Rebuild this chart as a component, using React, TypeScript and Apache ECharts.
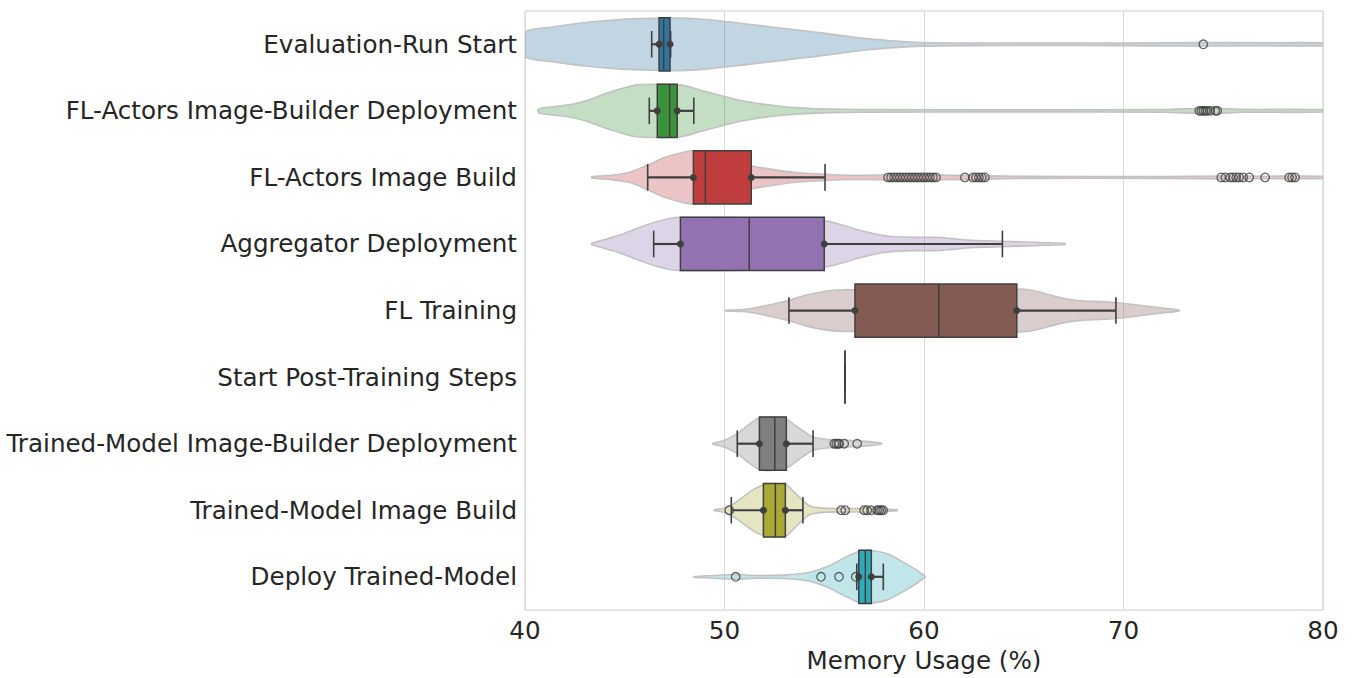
import React, { useEffect, useRef } from 'react';
import * as echarts from 'echarts';

const categories = [
  'Evaluation-Run Start',
  'FL-Actors Image-Builder Deployment',
  'FL-Actors Image Build',
  'Aggregator Deployment',
  'FL Training',
  'Start Post-Training Steps',
  'Trained-Model Image-Builder Deployment',
  'Trained-Model Image Build',
  'Deploy Trained-Model',
];

// [low whisker, q1, median, q3, high whisker]
const boxStats = [
  [46.35, 46.72, 46.95, 47.27, 47.3],
  [46.23, 46.63, 47.25, 47.63, 48.46],
  [46.15, 48.44, 49.04, 51.34, 55.04],
  [46.45, 47.79, 51.24, 55.0, 63.93],
  [53.23, 56.54, 60.74, 64.65, 69.62],
  [56.04, 56.04, 56.04, 56.04, 56.04],
  [50.64, 51.75, 52.52, 53.1, 54.44],
  [50.34, 51.95, 52.55, 53.05, 53.93],
  [56.63, 56.73, 57.06, 57.36, 57.96],
];

// violin profiles: [value, half width in band units]
const violinEval = [[40, 0.185], [41.4, 0.26], [43.1, 0.33], [44.8, 0.373], [46.4, 0.39], [47.8, 0.395], [49.1, 0.373], [50.4, 0.33], [51.8, 0.28], [53.1, 0.234], [54.5, 0.185], [55.8, 0.134], [57.1, 0.085], [58.5, 0.05], [59.8, 0.027], [62, 0.02], [66, 0.018], [70, 0.02], [74, 0.026], [77, 0.022], [80, 0.02]];
const violinActorsBuilder = [[40.65, 0.01], [40.72, 0.035], [41.5, 0.065], [42.3, 0.095], [43.1, 0.155], [43.9, 0.245], [44.8, 0.33], [45.6, 0.39], [46.4, 0.4], [47.8, 0.39], [48.8, 0.31], [49.8, 0.23], [50.8, 0.155], [51.8, 0.105], [52.8, 0.07], [53.8, 0.045], [54.8, 0.03], [57, 0.02], [65, 0.016], [72, 0.02], [74.2, 0.04], [76, 0.022], [80, 0.018]];
const violinActorsBuild = [[43.34, 0.008], [44.43, 0.037], [45.26, 0.077], [46.15, 0.186], [46.93, 0.29], [47.77, 0.366], [48.44, 0.4], [49.5, 0.33], [50.5, 0.23], [51.44, 0.167], [52.44, 0.117], [53.45, 0.077], [55.04, 0.047], [56.44, 0.032], [58.13, 0.037], [59.8, 0.04], [60.8, 0.035], [62, 0.03], [63, 0.025], [65, 0.015], [72, 0.014], [75, 0.022], [77, 0.018], [78.5, 0.02], [80, 0.015]];
const violinAggregator = [[43.34, 0.008], [43.92, 0.06], [44.76, 0.134], [45.6, 0.234], [46.43, 0.318], [47.27, 0.383], [47.79, 0.4], [49.5, 0.4], [51.5, 0.39], [53.5, 0.37], [55.12, 0.343], [55.79, 0.293], [56.46, 0.234], [57.29, 0.169], [58.13, 0.12], [59.46, 0.1], [60.64, 0.1], [61.3, 0.085], [62.14, 0.06], [63.93, 0.04], [65.48, 0.025], [67.07, 0.008]];
const violinTraining = [[50.06, 0.005], [50.94, 0.015], [52.11, 0.075], [53.23, 0.154], [54.12, 0.234], [55.12, 0.294], [55.96, 0.313], [56.54, 0.313], [58.5, 0.33], [60.5, 0.34], [62.5, 0.33], [64.81, 0.323], [65.48, 0.3], [66.32, 0.234], [67.15, 0.174], [67.99, 0.144], [68.82, 0.134], [69.6, 0.12], [70.5, 0.09], [71.3, 0.06], [72.2, 0.03], [72.8, 0.005]];
const violinPostTraining: number[][] = [];
const violinModelBuilder = [[49.41, 0.005], [49.77, 0.03], [50.11, 0.065], [50.64, 0.15], [51.28, 0.3], [51.75, 0.39], [52.5, 0.4], [53.2, 0.35], [53.62, 0.26], [53.95, 0.19], [54.44, 0.1], [55.12, 0.065], [56.12, 0.05], [57.13, 0.035], [57.88, 0.005]];
const violinModelBuild = [[49.47, 0.005], [49.94, 0.025], [50.36, 0.08], [50.94, 0.2], [51.44, 0.31], [51.95, 0.38], [52.5, 0.4], [53.12, 0.38], [53.53, 0.26], [53.95, 0.14], [54.29, 0.065], [54.79, 0.035], [55.79, 0.025], [57.46, 0.025], [58.66, 0.005]];
const violinDeploy = [[48.47, 0.005], [49.1, 0.015], [50.56, 0.035], [51.61, 0.02], [52.95, 0.025], [53.78, 0.045], [54.45, 0.08], [55.12, 0.15], [55.79, 0.25], [56.46, 0.35], [56.96, 0.4], [58.13, 0.35], [58.96, 0.22], [59.63, 0.1], [60.05, 0.005]];

const violinProfiles = [violinEval, violinActorsBuilder, violinActorsBuild, violinAggregator, violinTraining, violinPostTraining, violinModelBuilder, violinModelBuild, violinDeploy];

// outliers per category
const outEval = [74.0];
const outActorsBuilder = [73.8, 73.9, 74.0, 74.1, 74.2, 74.35, 74.6, 74.7];
const outActorsBuild = [58.2, 58.35, 58.5, 58.65, 58.8, 58.95, 59.1, 59.25, 59.4, 59.55, 59.7, 59.85, 60.0, 60.15, 60.3, 60.45, 60.6, 62.05, 62.45, 62.6, 62.75, 62.9, 63.05, 74.9, 75.1, 75.35, 75.5, 75.65, 75.8, 76.0, 76.3, 77.1, 78.3, 78.45, 78.6];
const outAggregator: number[] = [];
const outTraining: number[] = [];
const outPostTraining: number[] = [];
const outModelBuilder = [55.5, 55.6, 55.7, 55.75, 56.0, 56.65];
const outModelBuild = [50.24, 55.85, 56.05, 57.0, 57.15, 57.35, 57.65, 57.75, 57.85, 57.95];
const outDeploy = [50.56, 54.84, 55.74, 56.58];
const outliers = [outEval, outActorsBuilder, outActorsBuild, outAggregator, outTraining, outPostTraining, outModelBuilder, outModelBuild, outDeploy];

const xTicks = { min: 40, max: 80, interval: 10 };

const boxColors = ['#3274a1', '#3a923a', '#c03d3e', '#9372b2', '#845b53', '#7f7f7f', '#7f7f7f', '#a9aa35', '#2eabb8'];
const violinColors = [
  'rgba(50,116,161,0.3)', 'rgba(58,146,58,0.3)', 'rgba(192,61,62,0.3)', 'rgba(147,114,178,0.3)',
  'rgba(132,91,83,0.3)', 'rgba(127,127,127,0.3)', 'rgba(127,127,127,0.3)', 'rgba(169,170,53,0.3)', 'rgba(46,171,184,0.3)',
];

const DARK = '#3f3f3f';
const FONT = 'DejaVu Sans';
const FS = 24.6;

export default function App() {
  const ref = useRef<HTMLDivElement>(null);
  useEffect(() => {
    document.body.style.margin = '0';
    if (!ref.current) return;
    const chart = echarts.init(ref.current, undefined, { renderer: 'svg' });

    const catData = categories.map((_, i) => [boxStats[i][2], i]);
    const outlierData: number[][] = [];
    outliers.forEach((arr, i) => arr.forEach((v) => outlierData.push([v, i])));

    const option: any = {
      animation: false,
      grid: { left: 525, right: 33, top: 11, bottom: 64, show: true, borderColor: '#cccccc', borderWidth: 1, backgroundColor: 'transparent' },
      xAxis: {
        type: 'value', min: xTicks.min, max: xTicks.max, interval: xTicks.interval,
        axisLine: { show: false }, axisTick: { show: false },
        splitLine: { show: true, lineStyle: { color: '#d9d9d9', width: 1 } },
        axisLabel: { fontSize: FS, color: '#262626', fontFamily: FONT, margin: 8 },
        name: 'Memory Usage (%)', nameLocation: 'middle', nameGap: 34,
        nameTextStyle: { fontSize: FS, color: '#262626', fontFamily: FONT },
      },
      yAxis: {
        type: 'category', data: categories, inverse: true,
        axisLine: { show: false }, axisTick: { show: false }, splitLine: { show: false },
        axisLabel: { fontSize: FS, color: '#262626', fontFamily: FONT, margin: 8, padding: [5, 0, 0, 0] },
      },
      series: [
        {
          type: 'custom', name: 'violin', z: 1, clip: true,
          encode: { x: 0, y: 1 },
          data: catData,
          renderItem: (params: any, api: any) => {
            const idx = api.value(1);
            const prof = violinProfiles[idx];
            if (!prof || prof.length === 0) return null;
            const band = api.size([0, 1])[1];
            const upper = prof.map(([v, hw]) => { const p = api.coord([v, idx]); return [p[0], p[1] - hw * band]; });
            const lower = prof.map(([v, hw]) => { const p = api.coord([v, idx]); return [p[0], p[1] + hw * band]; }).reverse();
            return {
              type: 'polygon',
              shape: { points: upper.concat(lower), smooth: 0.25 },
              style: { fill: violinColors[idx], stroke: '#c2c2c2', lineWidth: 1.6 },
            };
          },
        },
        {
          type: 'custom', name: 'box', z: 2,
          encode: { x: 0, y: 1 },
          data: catData,
          renderItem: (params: any, api: any) => {
            const idx = api.value(1);
            const [lo, q1, med, q3, hi] = boxStats[idx];
            const band = api.size([0, 1])[1];
            const c = (v: number) => api.coord([v, idx]);
            const pLo = c(lo), pQ1 = c(q1), pMed = c(med), pQ3 = c(q3), pHi = c(hi);
            const y = pMed[1];
            const bh = 0.4 * band, ch = 0.2 * band;
            const children: any[] = [
              { type: 'line', shape: { x1: pLo[0], y1: y, x2: pQ1[0], y2: y }, style: { stroke: DARK, lineWidth: 2.2 } },
              { type: 'line', shape: { x1: pQ3[0], y1: y, x2: pHi[0], y2: y }, style: { stroke: DARK, lineWidth: 2.2 } },
              { type: 'line', shape: { x1: pLo[0], y1: y - ch, x2: pLo[0], y2: y + ch }, style: { stroke: DARK, lineWidth: 1.6 } },
              { type: 'line', shape: { x1: pHi[0], y1: y - ch, x2: pHi[0], y2: y + ch }, style: { stroke: DARK, lineWidth: 1.6 } },
              {
                type: 'polygon',
                shape: { points: [[pQ1[0], y - bh], [pQ3[0], y - bh], [pQ3[0], y + bh], [pQ1[0], y + bh]] },
                style: { fill: boxColors[idx], stroke: DARK, lineWidth: 1.5 },
              },
              { type: 'line', shape: { x1: pMed[0], y1: y - bh, x2: pMed[0], y2: y + bh }, style: { stroke: DARK, lineWidth: 1.5 } },
            ];
            if (q3 > q1) {
              children.push({ type: 'circle', shape: { cx: pQ1[0], cy: y, r: 3.5 }, style: { fill: DARK } });
              children.push({ type: 'circle', shape: { cx: pQ3[0], cy: y, r: 3.5 }, style: { fill: DARK } });
            }
            return { type: 'group', children };
          },
        },
        {
          type: 'scatter', name: 'outliers', z: 3,
          data: outlierData,
          symbol: 'circle', symbolSize: 8.5,
          itemStyle: { color: 'rgba(0,0,0,0)', borderColor: DARK, borderWidth: 1.3 },
          emphasis: { disabled: true },
        },
      ],
    };
    chart.setOption(option);
    return () => chart.dispose();
  }, []);
  return <div ref={ref} style={{ width: 1356, height: 678 }} />;
}
